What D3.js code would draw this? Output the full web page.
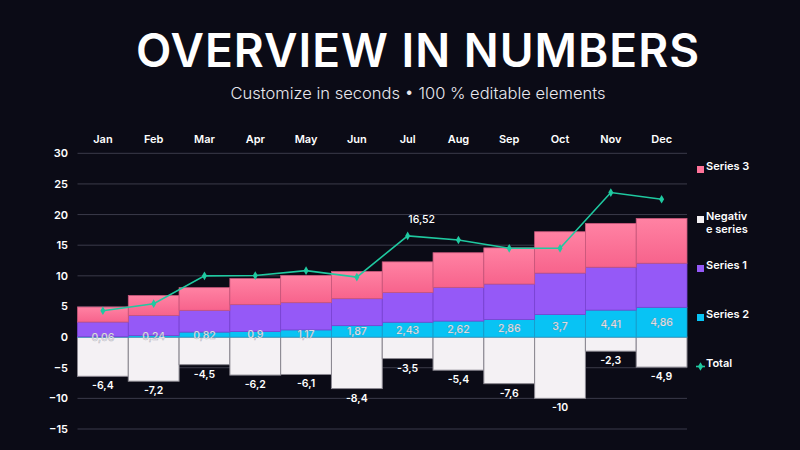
<!DOCTYPE html>
<html>
<head>
<meta charset="utf-8">
<title>Overview in numbers</title>
<script src="https://d3js.org/d3.v7.min.js"></script>
<style>
  html, body { margin: 0; padding: 0; background: #0b0b16; }
  svg { display: block; font-family: Inter, "Open Sans", sans-serif; }
</style>
</head>
<body>
<div id="chart"></div>
<script>
// data
const months = ["Jan","Feb","Mar","Apr","May","Jun","Jul","Aug","Sep","Oct","Nov","Dec"];
const series2 = [0.06, 0.24, 0.82, 0.9, 1.17, 1.87, 2.43, 2.62, 2.86, 3.7, 4.41, 4.86];
const series1 = [2.4, 3.3, 3.55, 4.4, 4.45, 4.4, 4.85, 5.5, 5.8, 6.75, 7.0, 7.2];
const series3 = [2.45, 3.25, 3.7, 4.25, 4.45, 4.45, 5.0, 5.65, 5.9, 6.75, 7.15, 7.3];
const negative = [-6.4, -7.2, -4.5, -6.2, -6.1, -8.4, -3.5, -5.4, -7.6, -10, -2.3, -4.9];
const total = [4.3, 5.45, 10, 10.05, 10.85, 9.8, 16.52, 15.85, 14.5, 14.5, 23.6, 22.5];
const totalLabelMonth = "Jul";
const yTicks = [-15, -10, -5, 0, 5, 10, 15, 20, 25, 30];

const W = 800, H = 450;
const fmt = v => String(v).replace(".", ",");

const svg = d3.select("#chart").append("svg")
  .attr("width", W).attr("height", H);

svg.append("rect").attr("width", W).attr("height", H).attr("fill", "#0b0b16");

// gradient for series 3
const defs = svg.append("defs");
const g3 = defs.append("linearGradient").attr("id", "pink")
  .attr("x1", 0).attr("y1", 0).attr("x2", 0).attr("y2", 1);
g3.append("stop").attr("offset", "0%").attr("stop-color", "#ff82a3");
g3.append("stop").attr("offset", "100%").attr("stop-color", "#f7638c");

// title
svg.append("text")
  .attr("x", 418).attr("y", 67)
  .attr("text-anchor", "middle")
  .attr("fill", "#ffffff")
  .style("font-size", "46px").style("font-weight", 600)
  .style("letter-spacing", "1px")
  .text("OVERVIEW IN NUMBERS");

svg.append("text")
  .attr("x", 418).attr("y", 99)
  .attr("text-anchor", "middle")
  .attr("fill", "#e8e8ee")
  .style("font-size", "16.5px").style("font-weight", 300)
  .text("Customize in seconds • 100 % editable elements");

const x = d3.scaleBand().domain(months).range([77.5, 687]).padding(0);
const y = d3.scaleLinear().domain([-15, 30]).range([429, 153.3]);

// grid
svg.append("g")
  .selectAll("line").data(yTicks).join("line")
  .attr("x1", 77.5).attr("x2", 687)
  .attr("y1", d => y(d)).attr("y2", d => y(d))
  .attr("stroke", "#3b3b4a").attr("stroke-width", 1);

// y axis
const yAxis = d3.axisLeft(y).tickValues(yTicks).tickSize(0).tickPadding(0);
const yg = svg.append("g").attr("transform", "translate(68,0)").call(yAxis);
yg.select(".domain").remove();
yg.selectAll("text").attr("fill", "#ffffff")
  .style("font-size", "11px").style("font-weight", 600)
  .style("font-family", "Inter, sans-serif");

// month axis on top
const xAxis = d3.axisTop(x).tickSize(0).tickPadding(0);
const xg = svg.append("g").attr("transform", "translate(0,143)").call(xAxis);
xg.select(".domain").remove();
xg.selectAll("text").attr("fill", "#ffffff")
  .style("font-size", "11px").style("font-weight", 600)
  .style("font-family", "Inter, sans-serif");

// stacked bars
const rows = months.map((m, i) => ({
  month: m, s2: series2[i], s1: series1[i], s3: series3[i], neg: negative[i], total: total[i]
}));

// negative series
svg.append("g").selectAll("rect").data(rows).join("rect")
  .attr("x", d => x(d.month)).attr("width", x.bandwidth())
  .attr("y", y(0)).attr("height", d => y(d.neg) - y(0))
  .attr("fill", "#f4f1f4").attr("stroke", "#8a8790").attr("stroke-width", 1);

const stack = d3.stack().keys(["s2", "s1", "s3"]);
const layers = stack(rows);
const colors = { s2: "#08c3f4", s1: "#9559f7", s3: "url(#pink)" };
const strokes = { s2: "#1a9ccc", s1: "#7a44d4", s3: "#c9577c" };

svg.append("g").selectAll("g").data(layers).join("g")
  .attr("fill", d => colors[d.key])
  .attr("stroke", d => strokes[d.key]).attr("stroke-width", 0.8)
  .selectAll("rect").data(d => d).join("rect")
  .attr("x", d => x(d.data.month)).attr("width", x.bandwidth())
  .attr("y", d => y(d[1])).attr("height", d => y(d[0]) - y(d[1]));

// series 2 labels
svg.append("g").selectAll("text").data(rows).join("text")
  .attr("x", d => x(d.month) + x.bandwidth() / 2)
  .attr("y", d => y(d.s2 / 2))
  .attr("dy", "0.38em")
  .attr("text-anchor", "middle")
  .attr("fill", "#ffffff")
  .attr("stroke", "rgba(120,120,140,0.5)").attr("stroke-width", 0.6)
  .style("font-size", "10.5px").style("font-weight", 500)
  .text(d => fmt(d.s2));

// negative labels
svg.append("g").selectAll("text").data(rows).join("text")
  .attr("x", d => x(d.month) + x.bandwidth() / 2)
  .attr("y", d => y(d.neg) + 13)
  .attr("text-anchor", "middle")
  .attr("fill", "#ffffff")
  .style("font-size", "10.5px").style("font-weight", 600)
  .text(d => fmt(d.neg));

// total line
const cx = d => x(d.month) + x.bandwidth() / 2;
svg.append("path").datum(rows)
  .attr("fill", "none").attr("stroke", "#1fc9a0").attr("stroke-width", 1.6)
  .attr("d", d3.line().x(cx).y(d => y(d.total)));

svg.append("g").selectAll("path").data(rows).join("path")
  .attr("transform", d => `translate(${cx(d)},${y(d.total)})`)
  .attr("d", d3.symbol(d3.symbolDiamond, 22))
  .attr("fill", "#1fc9a0");

const lbl = rows.find(d => d.month === totalLabelMonth);
svg.append("text")
  .attr("x", cx(lbl) + 14).attr("y", y(lbl.total) - 13)
  .attr("text-anchor", "middle")
  .attr("fill", "#ffffff")
  .style("font-size", "10.5px").style("font-weight", 500)
  .text(fmt(lbl.total));

// legend
const legend = [
  { name: ["Series 3"], fill: "#ff7399", y: 170 },
  { name: ["Negativ", "e series"], fill: "#f4f1f4", y: 220 },
  { name: ["Series 1"], fill: "#9559f7", y: 269 },
  { name: ["Series 2"], fill: "#08c3f4", y: 318 },
  { name: ["Total"], fill: "#1fc9a0", y: 367, line: true }
];
const lg = svg.append("g").selectAll("g").data(legend).join("g")
  .attr("transform", d => `translate(697,${d.y})`);
lg.filter(d => !d.line).append("rect")
  .attr("x", 0).attr("y", -4).attr("width", 7).attr("height", 7)
  .attr("fill", d => d.fill);
lg.filter(d => d.line).append("line")
  .attr("x1", -1).attr("x2", 8).attr("y1", -0.5).attr("y2", -0.5)
  .attr("stroke", d => d.fill).attr("stroke-width", 1.6);
lg.filter(d => d.line).append("path")
  .attr("transform", "translate(3.5,-0.5)")
  .attr("d", d3.symbol(d3.symbolDiamond, 22)).attr("fill", d => d.fill);
const lt = lg.append("text")
  .attr("x", 9).attr("y", 0).attr("dy", "0.3em")
  .attr("fill", "#ffffff")
  .style("font-size", "11px").style("font-weight", 600);
lt.selectAll("tspan").data(d => d.name).join("tspan")
  .attr("x", 9).attr("dy", (d, i) => i === 0 ? 0 : "1.2em")
  .text(d => d);
</script>
</body>
</html>
